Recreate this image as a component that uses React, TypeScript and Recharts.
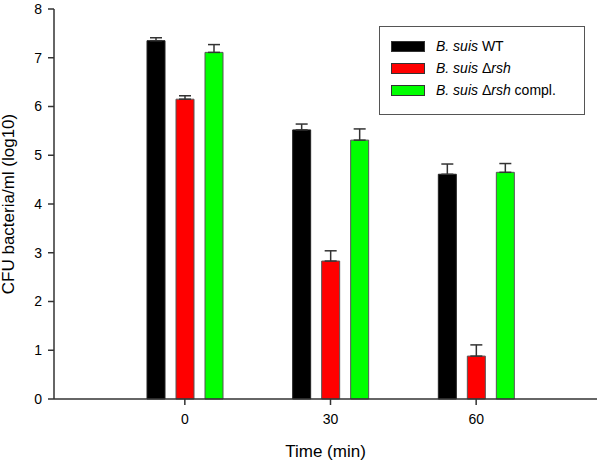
import React from 'react';
import { BarChart, Bar, XAxis, YAxis, ErrorBar, Legend } from 'recharts';

const times = ['0', '30', '60'];
const wtValues = [7.35, 5.52, 4.61];
const wtErrors = [0.06, 0.12, 0.21];
const rshValues = [6.15, 2.83, 0.88];
const rshErrors = [0.07, 0.21, 0.23];
const complValues = [7.11, 5.31, 4.65];
const complErrors = [0.16, 0.23, 0.18];
const yTicks = [0, 1, 2, 3, 4, 5, 6, 7, 8];

const data = times.map((t, i) => ({
  time: t,
  wt: wtValues[i],
  wtErr: [0, wtErrors[i]],
  rsh: rshValues[i],
  rshErr: [0, rshErrors[i]],
  compl: complValues[i],
  complErr: [0, complErrors[i]],
}));

const FONT = '"Liberation Sans", Arial, sans-serif';
const AXIS = '#333';

const legendLabels: Record<string, React.ReactNode> = {
  wt: (
    <>
      <i>B. suis</i> WT
    </>
  ),
  rsh: (
    <>
      <i>B. suis</i> Δ<i>rsh</i>
    </>
  ),
  compl: (
    <>
      <i>B. suis</i> Δ<i>rsh</i> compl.
    </>
  ),
};

const renderLegend = (props: any) => {
  const { payload } = props;
  return (
    <div
      style={{
        border: '1px solid #555',
        background: '#fff',
        width: 193,
        height: 79,
        boxSizing: 'content-box',
        padding: '8px 0 0 11px',
        fontFamily: FONT,
        fontSize: 14,
        color: '#000',
      }}
    >
      {payload.map((entry: any) => (
        <div key={entry.dataKey} style={{ display: 'flex', alignItems: 'center', height: 22 }}>
          <span
            style={{
              display: 'inline-block',
              width: 32,
              height: 9,
              background: entry.color,
              border: '1px solid #333',
              marginRight: 11,
            }}
          />
          <span>{legendLabels[entry.dataKey]}</span>
        </div>
      ))}
    </div>
  );
};

export default function App() {
  return (
    <div style={{ position: 'absolute', left: 0, top: 0, background: '#fff' }}>
      <BarChart
        width={600}
        height={463}
        data={data}
        margin={{ top: 9, right: 3, left: 0, bottom: 0 }}
        barSize={18}
        barGap={11}
      >
        <XAxis
          dataKey="time"
          padding={{ left: 58, right: 48 }}
          height={64}
          stroke={AXIS}
          strokeWidth={1.5}
          tickSize={6}
          tickMargin={9}
          tick={{ fill: '#000', fontSize: 14, fontFamily: FONT }}
          label={{
            value: 'Time (min)',
            position: 'insideBottom',
            offset: 6,
            style: { fill: '#000', fontSize: 17, fontFamily: FONT },
          }}
        />
        <XAxis
          xAxisId="top"
          dataKey="time"
          orientation="top"
          height={0}
          tick={false}
          tickLine={false}
          stroke={AXIS}
          strokeWidth={1.5}
        />
        <YAxis
          domain={[0, 8]}
          ticks={yTicks}
          width={54}
          stroke={AXIS}
          strokeWidth={1.5}
          tickSize={6}
          tickMargin={6}
          tick={{ fill: '#000', fontSize: 14, fontFamily: FONT }}
          label={{
            value: 'CFU bacteria/ml (log10)',
            angle: -90,
            position: 'insideLeft',
            offset: 8,
            style: { textAnchor: 'middle', fill: '#000', fontSize: 17, fontFamily: FONT },
          }}
        />
        <YAxis
          yAxisId="right"
          orientation="right"
          width={0}
          tick={false}
          tickLine={false}
          stroke={AXIS}
          strokeWidth={1.5}
        />
        <Legend
          layout="horizontal"
          verticalAlign="middle"
          align="center"
          content={renderLegend}
          wrapperStyle={{ top: 26, left: 379, width: 'auto' }}
        />
        <Bar dataKey="wt" name="B. suis WT" fill="#000" stroke="#222" isAnimationActive={false}>
          <ErrorBar dataKey="wtErr" width={6} stroke="#333" strokeWidth={1.5} direction="y" />
        </Bar>
        <Bar dataKey="rsh" name="B. suis Δrsh" fill="#ff0000" stroke="#555" isAnimationActive={false}>
          <ErrorBar dataKey="rshErr" width={6} stroke="#333" strokeWidth={1.5} direction="y" />
        </Bar>
        <Bar dataKey="compl" name="B. suis Δrsh compl." fill="#00ff00" stroke="#555" isAnimationActive={false}>
          <ErrorBar dataKey="complErr" width={6} stroke="#333" strokeWidth={1.5} direction="y" />
        </Bar>
      </BarChart>
    </div>
  );
}
